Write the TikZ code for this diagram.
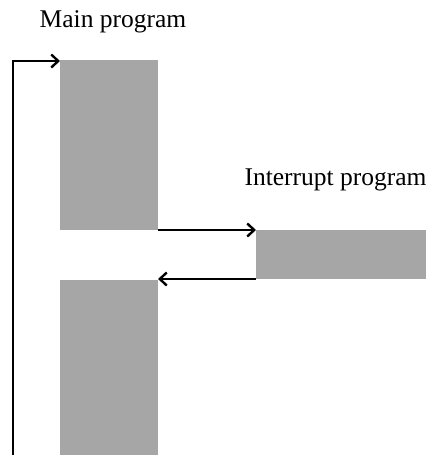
\documentclass[tikz,border=0pt]{standalone}
\usepackage{fontspec}
\setmainfont{Liberation Serif}
\usetikzlibrary{arrows.meta,calc,positioning}
\definecolor{blockgray}{HTML}{A6A6A6}

\begin{document}
\begin{tikzpicture}[x=1pt,y=-1pt,
	  every node/.style={align=center,draw=none},
	  block/.style={fill=blockgray,inner sep=0pt,outer sep=0pt,anchor=north west},
	  title/.style={font=\fontsize{25.5}{30}\selectfont,inner sep=0pt},
	  to/.style={-{Straight Barb[length=7pt,width=13pt]},line width=2.4pt,draw=black}]

	  \useasboundingbox (0,0) rectangle (430,455);

	  % Blocks of the two programs
	  \node[block,minimum width=98pt,minimum height=170pt] (maina) at (60,60) {};
	  \node[block,minimum width=170pt,minimum height=49pt] (intr) at (256,230) {};
	  \node[block,minimum width=98pt,minimum height=175pt] (mainb) at (60,280) {};

	  \node[title] (mainlabel) at (113,22) {Main program};
	  \node[title] (intrlabel) at (335.5,180) {Interrupt program};

	  \coordinate (loop) at (13,455);
	  \draw[to] (loop) |- ([yshift=-1pt]maina.north west);
	  \draw[to] (maina.south east) -- (maina.south east -| intr.west);
	  \draw[to] (intr.south west) -- (intr.south west -| mainb.east);
\end{tikzpicture}
\end{document}
